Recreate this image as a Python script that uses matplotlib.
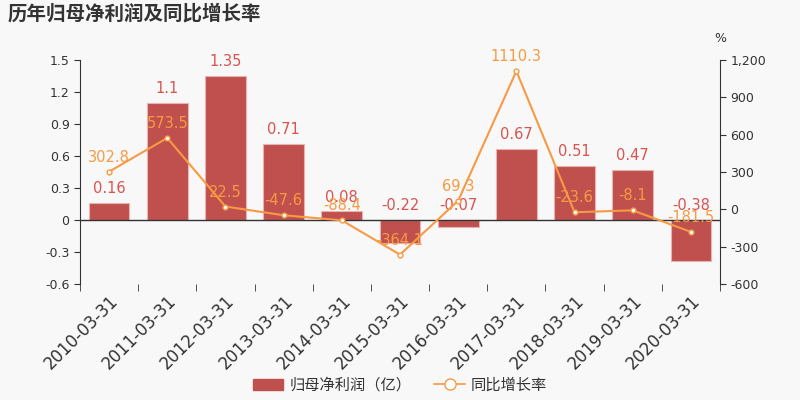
import matplotlib
matplotlib.use("Agg")
import matplotlib.pyplot as plt
from matplotlib.ticker import FuncFormatter
from matplotlib.patches import Patch
from matplotlib.lines import Line2D
import numpy as np

plt.rcParams['font.family'] = ['DejaVu Sans', 'Noto Sans CJK SC']

categories = ["2010-03-31", "2011-03-31", "2012-03-31", "2013-03-31", "2014-03-31",
              "2015-03-31", "2016-03-31", "2017-03-31", "2018-03-31", "2019-03-31", "2020-03-31"]
profit = [0.16, 1.1, 1.35, 0.71, 0.08, -0.22, -0.07, 0.67, 0.51, 0.47, -0.38]
profit_labels = ["0.16", "1.1", "1.35", "0.71", "0.08", "-0.22", "-0.07", "0.67", "0.51", "0.47", "-0.38"]
growth = [302.8, 573.5, 22.5, -47.6, -88.4, -364.1, 69.3, 1110.3, -23.6, -8.1, -181.5]
left_ticks = [-0.6, -0.3, 0, 0.3, 0.6, 0.9, 1.2, 1.5]
right_ticks = [-600, -300, 0, 300, 600, 900, 1200]

bg = "#f8f8f8"
bar_color = "#c0504d"
line_color = "#f79a44"
text_color = "#333333"

fig = plt.figure(figsize=(8, 4), dpi=100, facecolor=bg)
ax = fig.add_axes([0.1, 0.29, 0.8, 0.56], facecolor=bg)
ax2 = ax.twinx()

x = np.arange(len(categories))
ax.bar(x, profit, width=0.7, color=bar_color, edgecolor="#e8b4b3", linewidth=0.8, zorder=2)
ax.set_xlim(-0.5, len(categories) - 0.5)
ax.set_ylim(-0.6, 1.5)
ax.set_yticks(left_ticks)
ax.set_yticklabels([("%g" % t) for t in left_ticks])

for xi, v, lab in zip(x, profit, profit_labels):
    y = max(v, 0)
    ax.annotate(lab, (xi, y), xytext=(0, 5), textcoords="offset points",
                ha="center", va="bottom", color="#d9534f", fontsize=10.5, zorder=5)

ax2.plot(x, growth, color=line_color, linewidth=1.5, marker="o", markersize=3.5,
         markerfacecolor="white", markeredgecolor=line_color, markeredgewidth=1, zorder=4)
ax2.set_ylim(-600, 1200)
ax2.set_yticks(right_ticks)
ax2.yaxis.set_major_formatter(FuncFormatter(lambda v, p: "{:,.0f}".format(v)))
for xi, v in zip(x, growth):
    ax2.annotate("%g" % v, (xi, v), xytext=(0, 5), textcoords="offset points",
                 ha="center", va="bottom", color=line_color, fontsize=10.5, zorder=5)

for a in (ax, ax2):
    a.spines['top'].set_visible(False)
    a.spines['bottom'].set_visible(False)
ax.spines['right'].set_visible(False)
ax2.spines['left'].set_visible(False)
ax.spines['left'].set_color(text_color)
ax2.spines['right'].set_color(text_color)
ax.axhline(0, color=text_color, linewidth=1, zorder=3)

ax.tick_params(axis='y', colors=text_color, labelsize=9, length=4)
ax2.tick_params(axis='y', colors=text_color, labelsize=9, length=4)

ax.set_xticks(x)
ax.set_xticklabels(categories, rotation=45, ha="right", rotation_mode="anchor",
                   fontsize=12, color=text_color)
ax.tick_params(axis='x', length=0, pad=6)
ax.set_xticks(np.arange(-0.5, len(categories), 1.0), minor=True)
ax.tick_params(axis='x', which='minor', length=5, color=text_color)

fig.text(0.01, 0.965, "历年归母净利润及同比增长率", fontsize=14, fontweight="bold",
         color=text_color, ha="left", va="center", family=['Noto Sans CJK SC', 'DejaVu Sans'])
fig.text(0.9, 0.905, "%", fontsize=9, color=text_color, ha="center", va="center")

handles = [Patch(facecolor=bar_color, edgecolor=bar_color),
           Line2D([0], [0], color=line_color, marker="o", markersize=8,
                  markerfacecolor="white", markeredgecolor=line_color, linewidth=1.2)]
fig.legend(handles, ["归母净利润（亿）", "同比增长率"], loc="center", bbox_to_anchor=(0.5, 0.037),
           ncol=2, frameon=False, labelcolor=text_color,
           handlelength=2.0, columnspacing=1.5, handletextpad=0.4,
           prop={'family': ['Noto Sans CJK SC', 'DejaVu Sans'], 'size': 11})

fig.savefig("out.png", dpi=100, facecolor=bg)
